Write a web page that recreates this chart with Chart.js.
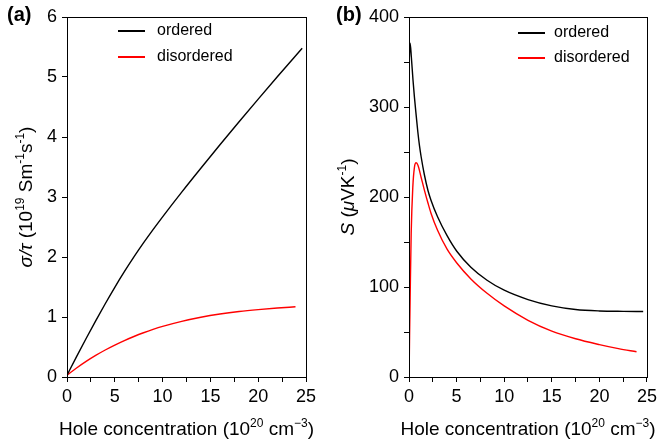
<!DOCTYPE html>
<html>
<head>
<meta charset="utf-8">
<script src="https://cdn.jsdelivr.net/npm/chart.js@4.4.0/dist/chart.umd.min.js"></script>
<style>
  body { margin: 0; background: #fff; }
  .panel { position: absolute; top: 0; }
  #wrapA { left: 0; }
  #wrapB { left: 330px; }
</style>
</head>
<body>
<div class="panel" id="wrapA"><canvas id="condChart" width="330" height="445"></canvas></div>
<div class="panel" id="wrapB"><canvas id="seebeckChart" width="331" height="445"></canvas></div>
<script>
// hole concentration (1e20 cm^-3) vs sigma/tau (1e19 S m^-1 s^-1)
const condOrderedX = [0, 1, 2, 3, 4, 5, 6, 7, 8, 9, 10, 12, 14, 16, 18, 20, 22, 24.6];
const condOrderedY = [0.03, 0.34, 0.642, 0.936, 1.221, 1.495, 1.755, 2.001, 2.234, 2.456, 2.67, 3.082, 3.48, 3.87, 4.254, 4.632, 5.004, 5.48];
const condDisorderedX = [0, 1, 2, 3, 4, 5, 6, 7, 8, 9, 10, 12, 14, 16, 18, 20, 22, 23.9];
const condDisorderedY = [0.03, 0.15, 0.26, 0.36, 0.45, 0.532, 0.607, 0.675, 0.737, 0.793, 0.843, 0.927, 0.995, 1.049, 1.091, 1.123, 1.149, 1.17];

// hole concentration vs Seebeck coefficient (uV/K)
const seebOrderedX = [0.02, 0.12, 0.25, 0.42, 0.57, 0.77, 0.92, 1.1, 1.27, 1.61, 2, 2.31, 3, 4, 5, 6.5, 8.2, 10, 12.5, 15, 17.5, 20, 22.5, 24.6];
const seebOrderedY = [352, 371, 355, 330, 311, 289, 273, 257, 245, 225, 207, 196.5, 178, 157, 140, 122, 107.5, 96.4, 86, 79, 75, 73.4, 72.9, 72.7];
const seebDisorderedX = [0, 0.02, 0.06, 0.12, 0.23, 0.4, 0.57, 0.75, 0.95, 1.27, 1.61, 2, 2.31, 3, 4, 5, 6.5, 8.2, 10, 12.5, 15, 17.5, 20, 22, 23.9];
const seebDisorderedY = [0, 12, 45, 88, 160, 211, 233, 238, 235, 222, 208, 193, 182, 163, 142, 127, 109, 93, 79, 63, 51, 42.5, 36, 31.5, 28];

const xTicks = { min: 0, max: 25, step: 2.5, labelEvery: 5 };

const FONT = '"Liberation Sans", Arial, Helvetica, sans-serif';

function pairs(xs, ys) {
  return xs.map((x, i) => ({ x: x, y: ys[i] }));
}

function fontFor(seg, size) {
  const s = seg.sup ? Math.round(size * 0.65) : size;
  return (seg.italic ? 'italic ' : '') + (seg.bold ? 'bold ' : '') + s + 'px ' + FONT;
}

// draws a centred run of text pieces, some italic or raised
function drawRich(ctx, segs, x, y, size, vertical) {
  ctx.save();
  ctx.translate(x, y);
  if (vertical) ctx.rotate(-Math.PI / 2);
  let total = 0;
  segs.forEach(s => { ctx.font = fontFor(s, size); total += ctx.measureText(s.t).width; });
  let cx = -total / 2;
  ctx.fillStyle = '#000';
  ctx.textBaseline = 'alphabetic';
  ctx.textAlign = 'left';
  segs.forEach(s => {
    ctx.font = fontFor(s, size);
    ctx.fillText(s.t, cx, size * 0.36 - (s.sup ? size * 0.4 : 0));
    cx += ctx.measureText(s.t).width;
  });
  ctx.restore();
}

const decorPlugin = {
  id: 'decor',
  afterDraw(chart, args, opts) {
    const ctx = chart.ctx;
    const a = chart.chartArea;
    // closed frame round the plot
    ctx.save();
    ctx.strokeStyle = '#000';
    ctx.lineWidth = 1;
    ctx.strokeRect(Math.round(a.left) + 0.5, Math.round(a.top) + 0.5,
      Math.round(a.right - a.left), Math.round(a.bottom - a.top));
    ctx.restore();

    drawRich(ctx, opts.xTitle, (a.left + a.right) / 2, opts.xTitleY, 19, false);
    drawRich(ctx, opts.yTitle, opts.yTitleX, (a.top + a.bottom) / 2, 19, true);

    ctx.save();
    ctx.fillStyle = '#000';
    ctx.font = 'bold 20px ' + FONT;
    ctx.textBaseline = 'alphabetic';
    ctx.fillText(opts.tag, opts.tagX, 21);
    ctx.restore();

    // legend inside the plot
    const lg = opts.legend;
    chart.data.datasets.forEach((ds, i) => {
      const y = lg.y + i * lg.dy;
      ctx.save();
      ctx.strokeStyle = ds.borderColor;
      ctx.lineWidth = 2;
      ctx.beginPath();
      ctx.moveTo(lg.x, y);
      ctx.lineTo(lg.x + lg.len, y);
      ctx.stroke();
      ctx.fillStyle = '#000';
      ctx.font = '16px ' + FONT;
      ctx.textBaseline = 'middle';
      ctx.fillText(ds.label, lg.textX, y);
      ctx.restore();
    });
  }
};

function tickFont() {
  return { family: FONT, size: 18 };
}

function makeChart(id, series, yOpts, axisW, padRight, decor) {
  const ctx = document.getElementById(id).getContext('2d');
  return new Chart(ctx, {
    type: 'line',
    data: {
      datasets: series.map(s => ({
        label: s.label,
        data: s.data,
        borderColor: s.color,
        borderWidth: 1.4,
        pointRadius: 0,
        fill: false,
        cubicInterpolationMode: 'monotone'
      }))
    },
    options: {
      responsive: false,
      animation: false,
      layout: { padding: { left: 0, right: padRight, top: 17, bottom: 0 } },
      plugins: {
        legend: { display: false },
        tooltip: { enabled: false },
        decor: decor
      },
      scales: {
        x: {
          type: 'linear',
          min: xTicks.min,
          max: xTicks.max,
          afterFit: s => { s.height = 68; },
          border: { display: true, color: '#000', width: 1 },
          grid: { drawOnChartArea: false, drawTicks: true, tickLength: 5, color: '#000' },
          ticks: {
            stepSize: xTicks.step,
            autoSkip: false,
            maxRotation: 0,
            padding: 4,
            color: '#000',
            font: tickFont(),
            callback: v => (v % xTicks.labelEvery === 0 ? v : '')
          }
        },
        y: {
          min: yOpts.min,
          max: yOpts.max,
          afterFit: s => { s.width = axisW; },
          border: { display: true, color: '#000', width: 1 },
          grid: { drawOnChartArea: false, drawTicks: true, tickLength: 5, color: '#000' },
          ticks: {
            stepSize: yOpts.step,
            autoSkip: false,
            padding: 5,
            color: '#000',
            font: tickFont(),
            callback: v => (v % yOpts.labelEvery === 0 ? v : '')
          }
        }
      }
    },
    plugins: [decorPlugin]
  });
}

makeChart('condChart', [
  { label: 'ordered', color: '#000000', data: pairs(condOrderedX, condOrderedY) },
  { label: 'disordered', color: '#ff0000', data: pairs(condDisorderedX, condDisorderedY) }
], { min: 0, max: 6, step: 1, labelEvery: 1 }, 67, 24, {
  tag: '(a)', tagX: 7,
  xTitleY: 428, yTitleX: 25,
  xTitle: [{ t: 'Hole concentration (10' }, { t: '20', sup: true }, { t: ' cm' }, { t: '\u22123', sup: true }, { t: ')' }],
  yTitle: [{ t: '\u03c3/\u03c4', italic: true }, { t: ' (10' }, { t: '19', sup: true }, { t: ' Sm' }, { t: '-1', sup: true }, { t: 's' }, { t: '-1', sup: true }, { t: ')' }],
  legend: { x: 118, len: 27, textX: 157, y: 31, dy: 26 }
});

makeChart('seebeckChart', [
  { label: 'ordered', color: '#000000', data: pairs(seebOrderedX, seebOrderedY) },
  { label: 'disordered', color: '#ff0000', data: pairs(seebDisorderedX, seebDisorderedY) }
], { min: 0, max: 400, step: 50, labelEvery: 100 }, 79, 12, {
  tag: '(b)', tagX: 6,
  xTitleY: 428, yTitleX: 17,
  xTitle: [{ t: 'Hole concentration (10' }, { t: '20', sup: true }, { t: ' cm' }, { t: '\u22123', sup: true }, { t: ')' }],
  yTitle: [{ t: 'S', italic: true }, { t: ' (' }, { t: '\u03bc', italic: true }, { t: 'VK' }, { t: '-1', sup: true }, { t: ')' }],
  legend: { x: 188, len: 27, textX: 224, y: 33, dy: 25 }
});
</script>
</body>
</html>
